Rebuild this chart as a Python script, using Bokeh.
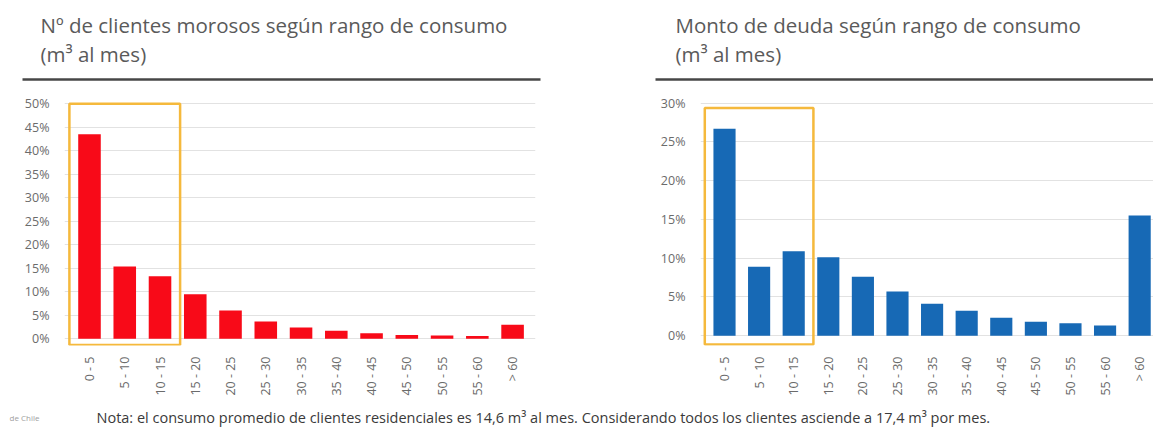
import math
from bokeh.plotting import figure
from bokeh.models import Range1d, FixedTicker, NumeralTickFormatter, BoxAnnotation, ColumnDataSource
from bokeh.core.properties import value
from bokeh.layouts import column, row
from bokeh.embed import file_html
from bokeh.resources import INLINE

# ---------------- data ----------------
categories = ["0 - 5", "5 - 10", "10 - 15", "15 - 20", "20 - 25", "25 - 30", "30 - 35",
              "35 - 40", "40 - 45", "45 - 50", "50 - 55", "55 - 60", "> 60"]
clientes_share = [0.435, 0.154, 0.133, 0.095, 0.060, 0.037, 0.024, 0.017, 0.012, 0.008, 0.007, 0.006, 0.030]
deuda_share = [0.267, 0.089, 0.109, 0.101, 0.076, 0.057, 0.041, 0.032, 0.023, 0.018, 0.016, 0.013, 0.155]
highlight = ["0 - 5", "5 - 10", "10 - 15"]
left_ticks = [0.0, 0.05, 0.10, 0.15, 0.20, 0.25, 0.30, 0.35, 0.40, 0.45, 0.50]
right_ticks = [0.0, 0.05, 0.10, 0.15, 0.20, 0.25, 0.30]

title_left_1 = "Nº de clientes morosos según rango de consumo"
title_right_1 = "Monto de deuda según rango de consumo"
title_2 = "(m³ al mes)"
footnote = ("Nota: el consumo promedio de clientes residenciales es 14,6 m³ al mes. "
            "Considerando todos los clientes asciende a 17,4 m³ por mes.")
source_note = "de Chile"

FONT = "Open Sans"
TICK_COLOR = "#6b6b6b"
TITLE_COLOR = "#5a5a5a"


def make_chart(values, color, x_rng, y_rng, ticks, box_top, box_bottom,
               width, height, bl, br, bt, bb):
    xs = list(range(len(categories)))
    src = ColumnDataSource(dict(x=xs, top=values, cat=categories))
    p = figure(width=width, height=height, x_range=Range1d(*x_rng), y_range=Range1d(*y_rng),
               output_backend="svg", toolbar_location=None,
               min_border_left=bl, min_border_right=br, min_border_top=bt, min_border_bottom=bb)
    p.outline_line_color = None
    p.background_fill_color = "white"
    p.border_fill_color = "white"
    p.xgrid.visible = False
    p.ygrid.grid_line_color = "#e2e2e2"
    p.ygrid.grid_line_width = 1

    p.vbar(x="x", top="top", bottom=0, width=0.64, fill_color=color, line_color=None, source=src)

    idx = [categories.index(c) for c in highlight]
    box = BoxAnnotation(left=min(idx) - 0.57, right=max(idx) + 0.57, top=box_top, bottom=box_bottom,
                        fill_color=None, fill_alpha=0, line_color="#F5B93C", line_alpha=1.0,
                        line_width=2.5)
    p.add_layout(box)

    p.yaxis.ticker = FixedTicker(ticks=ticks)
    p.yaxis.formatter = NumeralTickFormatter(format="0%")
    p.xaxis.ticker = FixedTicker(ticks=xs)
    p.xaxis.major_label_overrides = {i: c for i, c in zip(xs, categories)}
    p.xaxis.major_label_orientation = math.pi / 2
    for ax in (p.xaxis, p.yaxis):
        ax.axis_line_color = None
        ax.major_tick_line_color = None
        ax.minor_tick_line_color = None
        ax.major_label_text_font = FONT
        ax.major_label_text_font_size = "12.5px"
        ax.major_label_text_color = TICK_COLOR
    p.yaxis.major_label_standoff = 9
    p.xaxis.major_label_standoff = 5
    return p


# left chart: figure spans x 0..600, y 88..400 of the page
left = make_chart(clientes_share, "#F80A18", (-0.709, 12.65), (-0.0143, 0.507), left_ticks,
                  0.50, -0.013, 600, 312, 64, 65, 12, 55)
# right chart: figure spans x 600..1153
right = make_chart(deuda_share, "#1769B5", (-0.694, 12.40), (-0.0127, 0.3033), right_ticks,
                   0.2935, -0.0115, 553, 312, 100, 0, 8, 55)


def blank(width, height):
    f = figure(width=width, height=height, x_range=Range1d(0, width), y_range=Range1d(height, 0),
               output_backend="svg", toolbar_location=None, x_axis_location=None,
               y_axis_location=None, min_border=0)
    f.outline_line_color = None
    f.grid.visible = False
    return f


# ---------------- header ----------------
header = blank(1153, 88)
header.segment(x0=[22, 655], y0=[79, 79], x1=[540, 1153], y1=[79, 79], line_color="#474747", line_width=2.5)
header.text(x=[40, 40, 675, 675], y=[24.5, 53, 24.5, 53],
            text=[title_left_1, title_2, title_right_1, title_2],
            text_font=value(FONT), text_font_size="20.5px", text_color=TITLE_COLOR,
            text_baseline="alphabetic", text_align="left")

# ---------------- footer ----------------
footer = blank(1153, 27)
footer.text(x=[96], y=[17], text=[footnote], text_font=value(FONT), text_font_size="14.5px",
            text_color="#3a3a3a", text_baseline="alphabetic", text_align="left")
footer.text(x=[9], y=[17], text=[source_note], text_font=value(FONT), text_font_size="8px",
            text_color="#a0a0a0", text_baseline="alphabetic", text_align="left")

layout = column(header, row(left, right), footer)
open("out.html", "w").write(file_html(layout, INLINE))
